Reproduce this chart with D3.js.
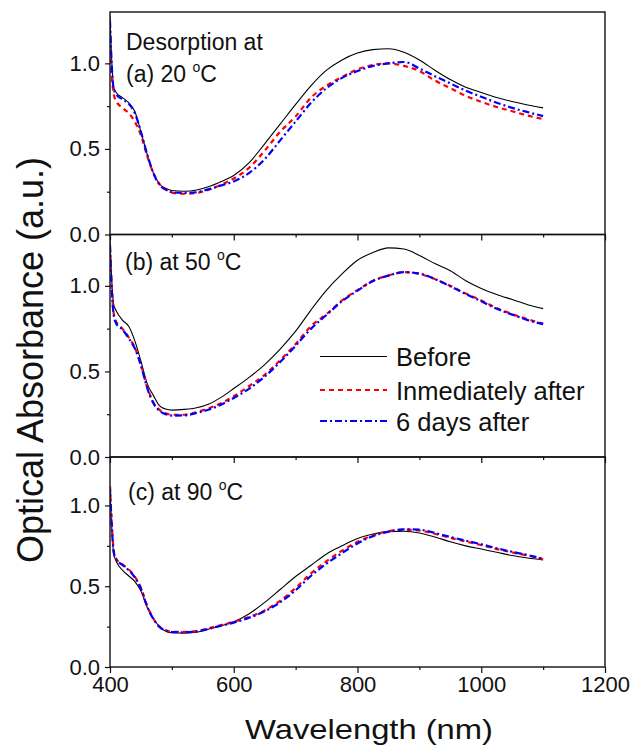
<!DOCTYPE html>
<html>
<head>
<meta charset="utf-8">
<script src="https://cdn.jsdelivr.net/npm/d3@7"></script>
<style>
  html, body { margin: 0; padding: 0; background: #ffffff; }
  svg { display: block; }
  text { font-family: "Liberation Sans", Arial, sans-serif; fill: #111; }
</style>
</head>
<body>
<svg id="chart" width="633" height="747"></svg>
<script>
// ---------------- data ----------------
const wavelengths = [400, 403, 406, 410, 420, 430, 440, 450, 460, 470, 480, 490, 500, 520, 540, 560, 580, 600,
  625, 650, 675, 700, 725, 750, 775, 800, 825, 850, 875, 900, 925, 950, 975, 1000, 1025, 1050, 1075, 1100];

const seriesNames = ["Before", "Inmediately after", "6 days after"];
const panelLabels = ["(a) 20 ", "(b) at 50 ", "(c) at 90 "];
const panelHeader = "Desorption at";

// panel (a) 20 °C
const a_before = [1.28, 1.00, 0.86, 0.83, 0.80, 0.77, 0.72, 0.60, 0.47, 0.36, 0.295, 0.27, 0.257, 0.253, 0.26, 0.28, 0.31, 0.345,
  0.42, 0.53, 0.645, 0.76, 0.87, 0.96, 1.02, 1.06, 1.08, 1.085, 1.065, 1.02, 0.96, 0.905, 0.86, 0.83, 0.80, 0.777, 0.757, 0.74];
const a_immediate = [1.08, 0.92, 0.82, 0.78, 0.74, 0.71, 0.66, 0.58, 0.46, 0.36, 0.295, 0.265, 0.245, 0.238, 0.243, 0.262, 0.292, 0.327,
  0.39, 0.49, 0.60, 0.69, 0.80, 0.87, 0.92, 0.965, 0.99, 1.0, 0.985, 0.955, 0.90, 0.855, 0.81, 0.775, 0.745, 0.72, 0.695, 0.674];
const a_6days = [1.25, 0.98, 0.85, 0.82, 0.79, 0.765, 0.71, 0.60, 0.47, 0.36, 0.29, 0.262, 0.247, 0.243, 0.248, 0.265, 0.287, 0.31,
  0.36, 0.44, 0.55, 0.66, 0.77, 0.855, 0.915, 0.955, 0.985, 1.0, 1.008, 0.97, 0.925, 0.883, 0.84, 0.805, 0.77, 0.74, 0.715, 0.692];

// panel (b) 50 °C
const b_before = [1.26, 1.02, 0.89, 0.855, 0.80, 0.765, 0.68, 0.56, 0.43, 0.36, 0.30, 0.28, 0.274, 0.278, 0.288, 0.31, 0.35, 0.40,
  0.465, 0.54, 0.63, 0.735, 0.86, 0.975, 1.07, 1.15, 1.195, 1.222, 1.215, 1.178, 1.13, 1.088, 1.03, 0.985, 0.95, 0.92, 0.89, 0.867];
const b_immediate = [1.22, 0.98, 0.84, 0.79, 0.75, 0.70, 0.64, 0.54, 0.41, 0.32, 0.275, 0.255, 0.247, 0.247, 0.262, 0.285, 0.315, 0.355,
  0.415, 0.48, 0.565, 0.66, 0.765, 0.835, 0.915, 0.975, 1.03, 1.06, 1.08, 1.07, 1.04, 1.0, 0.955, 0.915, 0.87, 0.835, 0.805, 0.779];
const b_6days = [1.24, 0.97, 0.83, 0.78, 0.745, 0.695, 0.635, 0.535, 0.405, 0.315, 0.27, 0.25, 0.242, 0.243, 0.257, 0.278, 0.307, 0.345,
  0.40, 0.47, 0.555, 0.65, 0.75, 0.83, 0.91, 0.972, 1.028, 1.06, 1.08, 1.072, 1.04, 0.998, 0.952, 0.91, 0.866, 0.832, 0.80, 0.776];

// panel (c) 90 °C
const c_before = [1.10, 0.85, 0.70, 0.655, 0.60, 0.565, 0.53, 0.47, 0.37, 0.30, 0.25, 0.222, 0.212, 0.21, 0.215, 0.235, 0.255, 0.28,
  0.33, 0.40, 0.48, 0.56, 0.63, 0.70, 0.75, 0.795, 0.823, 0.838, 0.84, 0.83, 0.805, 0.775, 0.75, 0.73, 0.71, 0.69, 0.675, 0.663];
const c_immediate = [1.12, 0.88, 0.72, 0.67, 0.635, 0.605, 0.56, 0.49, 0.38, 0.30, 0.25, 0.228, 0.218, 0.217, 0.222, 0.24, 0.26, 0.28,
  0.31, 0.35, 0.41, 0.49, 0.58, 0.655, 0.72, 0.775, 0.815, 0.84, 0.85, 0.845, 0.825, 0.80, 0.777, 0.755, 0.73, 0.71, 0.69, 0.667];
const c_6days = [1.10, 0.87, 0.71, 0.665, 0.632, 0.60, 0.555, 0.485, 0.375, 0.298, 0.248, 0.226, 0.216, 0.215, 0.22, 0.237, 0.256, 0.275,
  0.305, 0.345, 0.40, 0.475, 0.565, 0.64, 0.705, 0.765, 0.81, 0.838, 0.852, 0.85, 0.83, 0.805, 0.782, 0.76, 0.735, 0.713, 0.693, 0.67];

const xTickMajor = [400, 600, 800, 1000, 1200];
const xTickMinor = [500, 700, 900, 1100];
const yTickMajor = [0.0, 0.5, 1.0];
const yTickMinor = [0.25, 0.75];
const xTitle = "Wavelength (nm)";
const yTitle = "Optical Absorbance (a.u.)";

// ---------------- layout ----------------
const svg = d3.select("#chart");
const left = 110, right = 605;
const panels = [
  { top: 12, bottom: 234.5, series: [a_before, a_immediate, a_6days], label: panelLabels[0], header: true, lx: 126, ly: 82 },
  { top: 234.5, bottom: 457, series: [b_before, b_immediate, b_6days], label: panelLabels[1], header: false, lx: 125, ly: 270 },
  { top: 457, bottom: 667, series: [c_before, c_immediate, c_6days], label: panelLabels[2], header: false, lx: 128, ly: 500 }
];
const styles = [
  { color: "#000000", width: 1.1, dash: null },
  { color: "#ff0000", width: 2.2, dash: "5,4" },
  { color: "#0000ff", width: 2.2, dash: "7,3,2,3" }
];

const x = d3.scaleLinear().domain([400, 1200]).range([left, right]);

panels.forEach((p, i) => {
  const y = d3.scaleLinear().domain([0, 1.3]).range([p.bottom, p.top]);
  const g = svg.append("g");

  const clipId = "clip" + i;
  svg.append("clipPath").attr("id", clipId)
    .append("rect").attr("x", left).attr("y", p.top).attr("width", right - left).attr("height", p.bottom - p.top);

  // curves
  const line = d3.line()
    .x((d, k) => x(wavelengths[k]))
    .y(d => y(d))
    .curve(d3.curveMonotoneX);
  p.series.forEach((s, k) => {
    g.append("path")
      .attr("clip-path", `url(#${clipId})`)
      .attr("d", line(s))
      .attr("fill", "none")
      .attr("stroke", styles[k].color)
      .attr("stroke-width", styles[k].width)
      .attr("stroke-dasharray", styles[k].dash);
  });

  // y axis major & minor
  const yAx = g.append("g").attr("transform", `translate(${left},0)`)
    .call(d3.axisLeft(y).tickValues(yTickMajor).tickSize(5).tickPadding(5).tickFormat(d3.format(".1f")));
  yAx.select(".domain").remove();
  yAx.selectAll("text").attr("font-size", 22).attr("font-family", "Liberation Sans, Arial, sans-serif").attr("fill", "#111");
  yAx.selectAll("line").attr("stroke", "#111").attr("stroke-width", 1.2);
  const yMin = g.append("g").attr("transform", `translate(${left},0)`)
    .call(d3.axisLeft(y).tickValues(yTickMinor).tickSize(3).tickFormat(""));
  yMin.select(".domain").remove();
  yMin.selectAll("line").attr("stroke", "#111").attr("stroke-width", 1.2);

  // x axis major & minor (outward, down)
  const last = i === panels.length - 1;
  const xAx = g.append("g").attr("transform", `translate(0,${p.bottom})`)
    .call(d3.axisBottom(x).tickValues(xTickMajor).tickSize(6).tickPadding(3)
      .tickFormat(last ? d3.format("d") : ""));
  xAx.select(".domain").remove();
  xAx.selectAll("text").attr("font-size", 22).attr("font-family", "Liberation Sans, Arial, sans-serif").attr("fill", "#111");
  xAx.selectAll("line").attr("stroke", "#111").attr("stroke-width", 1.2);
  const xMin = g.append("g").attr("transform", `translate(0,${p.bottom})`)
    .call(d3.axisBottom(x).tickValues(xTickMinor).tickSize(3).tickFormat(""));
  xMin.select(".domain").remove();
  xMin.selectAll("line").attr("stroke", "#111").attr("stroke-width", 1.2);

  // frame
  g.append("rect").attr("x", left).attr("y", p.top).attr("width", right - left).attr("height", p.bottom - p.top)
    .attr("fill", "none").attr("stroke", "#111").attr("stroke-width", 1.4);

  // panel label
  if (p.header) {
    g.append("text").attr("x", p.lx).attr("y", 50).attr("font-size", 23).text(panelHeader);
  }
  const t = g.append("text").attr("x", p.lx).attr("y", p.ly).attr("font-size", 23);
  t.append("tspan").text(p.label);
  t.append("tspan").attr("font-size", 14).attr("dy", -10).text("o");
  t.append("tspan").attr("dy", 10).text("C");
});

// legend (inside panel b)
const legY = [356.5, 390, 421];
const lg = svg.append("g");
seriesNames.forEach((name, k) => {
  lg.append("line").attr("x1", 320).attr("x2", 387).attr("y1", legY[k]).attr("y2", legY[k])
    .attr("stroke", styles[k].color).attr("stroke-width", styles[k].width)
    .attr("stroke-dasharray", styles[k].dash);
  lg.append("text").attr("x", 396).attr("y", legY[k] + 9.5).attr("font-size", 25.5).text(name);
});

// axis titles
svg.append("text").attr("x", 369).attr("y", 739).attr("text-anchor", "middle")
  .attr("font-size", 28).attr("textLength", 248).attr("lengthAdjust", "spacingAndGlyphs").text(xTitle);
svg.append("text").attr("transform", "translate(43,360) rotate(-90)").attr("text-anchor", "middle")
  .attr("font-size", 37).attr("textLength", 406).attr("lengthAdjust", "spacingAndGlyphs").text(yTitle);
</script>
</body>
</html>
